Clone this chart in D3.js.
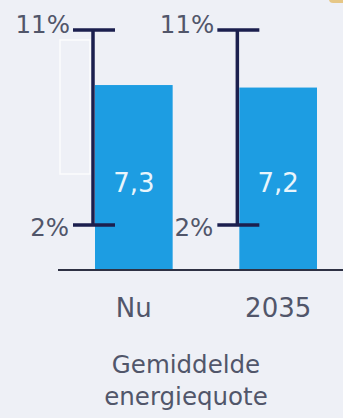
<!DOCTYPE html>
<html>
<head>
<meta charset="utf-8">
<script src="https://cdn.jsdelivr.net/npm/d3@7/dist/d3.min.js"></script>
<style>
  html, body { margin: 0; padding: 0; background: #eef0f6; }
  svg { display: block; }
  text { font-family: "DejaVu Sans", Verdana, sans-serif; }
</style>
</head>
<body>
<svg id="chart" width="343" height="418"></svg>
<script>
// Average energy quota, now vs 2035, with the 2%–11% spread
const categories = ["Nu", "2035"];
const averages = [7.3, 7.2];
const averageLabels = ["7,3", "7,2"];
const rangeLow = [2, 2];
const rangeHigh = [11, 11];
const rangeTickLabels = ["2%", "11%"];
const titleLines = ["Gemiddelde", "energiequote"];

const svg = d3.select("#chart");
const W = 343, H = 418;
const baseY = 269;

svg.append("rect").attr("width", W).attr("height", H).attr("fill", "#eef0f6");

// faint paper frame at the left
svg.append("rect")
  .attr("x", 60).attr("y", 40).attr("width", 30).attr("height", 134)
  .attr("fill", "none").attr("stroke", "#ffffff").attr("stroke-width", 1.5).attr("opacity", 0.8);

// small ochre mark in the corner
svg.append("rect")
  .attr("x", 329).attr("y", -12).attr("width", 20).attr("height", 15).attr("rx", 4)
  .attr("fill", "#e3bd6a").attr("opacity", 0.8);

const x = d3.scaleBand().domain(categories).range([95, 317]).paddingInner(0.462).paddingOuter(0);
const yBar = d3.scaleLinear().domain([0, 10]).range([baseY, 17]);
const yRange = d3.scaleLinear().domain([2, 11]).range([225, 30]);

const navy = "#1b1f4e";
const blue = "#1d9de2";
const grey = "#51566a";

// bars
svg.selectAll("rect.bar").data(categories).join("rect")
  .attr("class", "bar")
  .attr("x", d => x(d))
  .attr("width", x.bandwidth())
  .attr("y", (d, i) => yBar(averages[i]))
  .attr("height", (d, i) => yBar(0) - yBar(averages[i]))
  .attr("fill", blue);

// value labels inside bars
svg.selectAll("text.val").data(categories).join("text")
  .attr("class", "val")
  .attr("x", d => x(d) + x.bandwidth() / 2)
  .attr("y", 192)
  .attr("text-anchor", "middle")
  .attr("font-size", 26)
  .attr("fill", "#ffffff")
  .attr("opacity", 0.9)
  .text((d, i) => averageLabels[i]);

// baseline
svg.append("line")
  .attr("x1", 58).attr("x2", W).attr("y1", baseY + 1).attr("y2", baseY + 1)
  .attr("stroke", "#2e3144").attr("stroke-width", 2);

// spread whiskers
const wx = d => x(d) - 2;
const g = svg.selectAll("g.range").data(categories).join("g").attr("class", "range");
g.append("line")
  .attr("x1", wx).attr("x2", wx)
  .attr("y1", (d, i) => yRange(rangeHigh[i]))
  .attr("y2", (d, i) => yRange(rangeLow[i]))
  .attr("stroke", navy).attr("stroke-width", 3.5);
[rangeHigh, rangeLow].forEach(vals => {
  g.append("line")
    .attr("x1", d => wx(d) - 20).attr("x2", d => wx(d) + 22)
    .attr("y1", (d, i) => yRange(vals[i])).attr("y2", (d, i) => yRange(vals[i]))
    .attr("stroke", navy).attr("stroke-width", 3.5);
});
g.append("text")
  .attr("x", d => wx(d) - 23)
  .attr("y", (d, i) => yRange(rangeHigh[i]) + 3)
  .attr("text-anchor", "end")
  .attr("font-size", 24.5)
  .attr("fill", grey)
  .text(rangeTickLabels[1]);
g.append("text")
  .attr("x", d => wx(d) - 24)
  .attr("y", (d, i) => yRange(rangeLow[i]) + 11)
  .attr("text-anchor", "end")
  .attr("font-size", 24.5)
  .attr("fill", grey)
  .text(rangeTickLabels[0]);

// category axis
const xAxis = svg.append("g").attr("transform", `translate(0,${baseY})`)
  .call(d3.axisBottom(x).tickSize(0).tickPadding(0));
xAxis.select(".domain").remove();
xAxis.selectAll("text")
  .attr("y", 48)
  .attr("dy", 0)
  .attr("font-size", 26)
  .attr("font-family", "DejaVu Sans, Verdana, sans-serif")
  .attr("fill", grey);

// title under the chart
svg.selectAll("text.title").data(titleLines).join("text")
  .attr("class", "title")
  .attr("x", 186)
  .attr("y", (d, i) => 373 + i * 32)
  .attr("text-anchor", "middle")
  .attr("font-size", 24.5)
  .attr("fill", grey)
  .text(d => d);
</script>
</body>
</html>
